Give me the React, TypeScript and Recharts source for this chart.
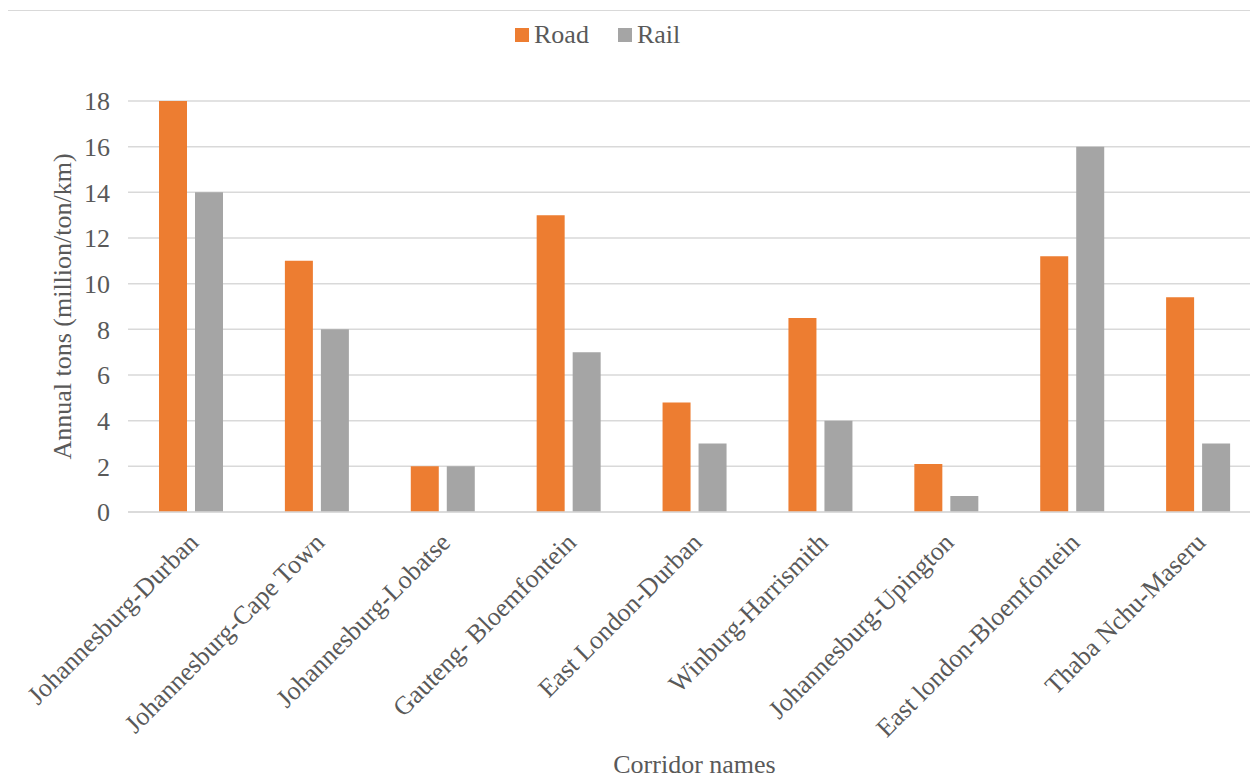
import { BarChart, Bar, CartesianGrid, Legend, XAxis, YAxis } from "recharts"

const corridors = [
  "Johannesburg-Durban",
  "Johannesburg-Cape Town",
  "Johannesburg-Lobatse",
  "Gauteng- Bloemfontein",
  "East London-Durban",
  "Winburg-Harrismith",
  "Johannesburg-Upington",
  "East london-Bloemfontein",
  "Thaba Nchu-Maseru",
]
const road = [18, 11, 2, 13, 4.8, 8.5, 2.1, 11.2, 9.4]
const rail = [14, 8, 2, 7, 3, 4, 0.7, 16, 3]
const yTicks = [0, 2, 4, 6, 8, 10, 12, 14, 16, 18]

const ROAD = "#ED7D31"
const RAIL = "#A5A5A5"
const TEXT = "#595959"
const FONT = "Liberation Serif, Times New Roman, Times, DejaVu Serif, serif"

const chartData = corridors.map((name, i) => ({ name, road: road[i], rail: rail[i] }))

function CorridorTick({ x, y, payload }: any) {
  return (
    <g transform={`translate(${x + 3},${y + 18})`}>
      <text
        transform="rotate(-45)"
        textAnchor="end"
        dominantBaseline="central"
        fill={TEXT}
        style={{ fontFamily: FONT, fontSize: 26 }}
      >
        {payload.value}
      </text>
    </g>
  )
}

function YTitle({ viewBox }: any) {
  const cx = 54
  const cy = viewBox.y + viewBox.height / 2
  return (
    <text
      x={cx}
      y={cy}
      transform={`rotate(-90, ${cx}, ${cy})`}
      textAnchor="middle"
      dominantBaseline="central"
      fill={TEXT}
      style={{ fontFamily: FONT, fontSize: 26 }}
    >
      Annual tons (million/ton/km)
    </text>
  )
}

function XTitle({ viewBox }: any) {
  const cx = viewBox.x + viewBox.width / 2
  return (
    <text x={cx} y={762} textAnchor="middle" fill={TEXT} style={{ fontFamily: FONT, fontSize: 26 }}>
      Corridor names
    </text>
  )
}

function LegendBox() {
  const items = [
    { label: "Road", color: ROAD },
    { label: "Rail", color: RAIL },
  ]
  return (
    <div style={{ display: "flex", gap: 29, height: 30, fontFamily: FONT, fontSize: 26, color: TEXT, lineHeight: "30px" }}>
      {items.map((it) => (
        <div key={it.label} style={{ display: "flex", alignItems: "center", gap: 5 }}>
          <span style={{ width: 14, height: 14, background: it.color, display: "inline-block" }} />
          <span>{it.label}</span>
        </div>
      ))}
    </div>
  )
}

function App() {
  return (
    <div
      style={{
        marginLeft: -1,
        marginTop: 2,
        width: 1251,
        height: 769,
        overflow: "hidden",
        borderTop: "1px solid #d9d9d9",
        borderLeft: "1px solid #d9d9d9",
        boxSizing: "border-box",
        position: "relative",
      }}
    >
      <BarChart
        width={1270}
        height={780}
        data={chartData}
        margin={{ top: 60, right: 17, bottom: 0, left: 0 }}
        barGap={8}
        barSize={28}
      >
        <CartesianGrid vertical={false} stroke="#d9d9d9" strokeWidth={1.5} />
        <XAxis
          dataKey="name"
          height={279}
          interval={0}
          tickLine={false}
          axisLine={{ stroke: "#d9d9d9", strokeWidth: 1.5 }}
          tick={<CorridorTick />}
          label={<XTitle />}
        />
        <YAxis
          width={120}
          domain={[0, 18]}
          ticks={yTicks}
          tickLine={false}
          axisLine={false}
          tick={{ fill: TEXT, fontSize: 26, fontFamily: FONT }}
          tickMargin={12}
          label={<YTitle />}
        />
        <Legend
          verticalAlign="top"
          content={<LegendBox />}
          wrapperStyle={{ top: 9, left: 507, width: 200 }}
        />
        <Bar dataKey="road" name="Road" fill={ROAD} isAnimationActive={false} />
        <Bar dataKey="rail" name="Rail" fill={RAIL} isAnimationActive={false} />
      </BarChart>
    </div>
  )
}

export default App
